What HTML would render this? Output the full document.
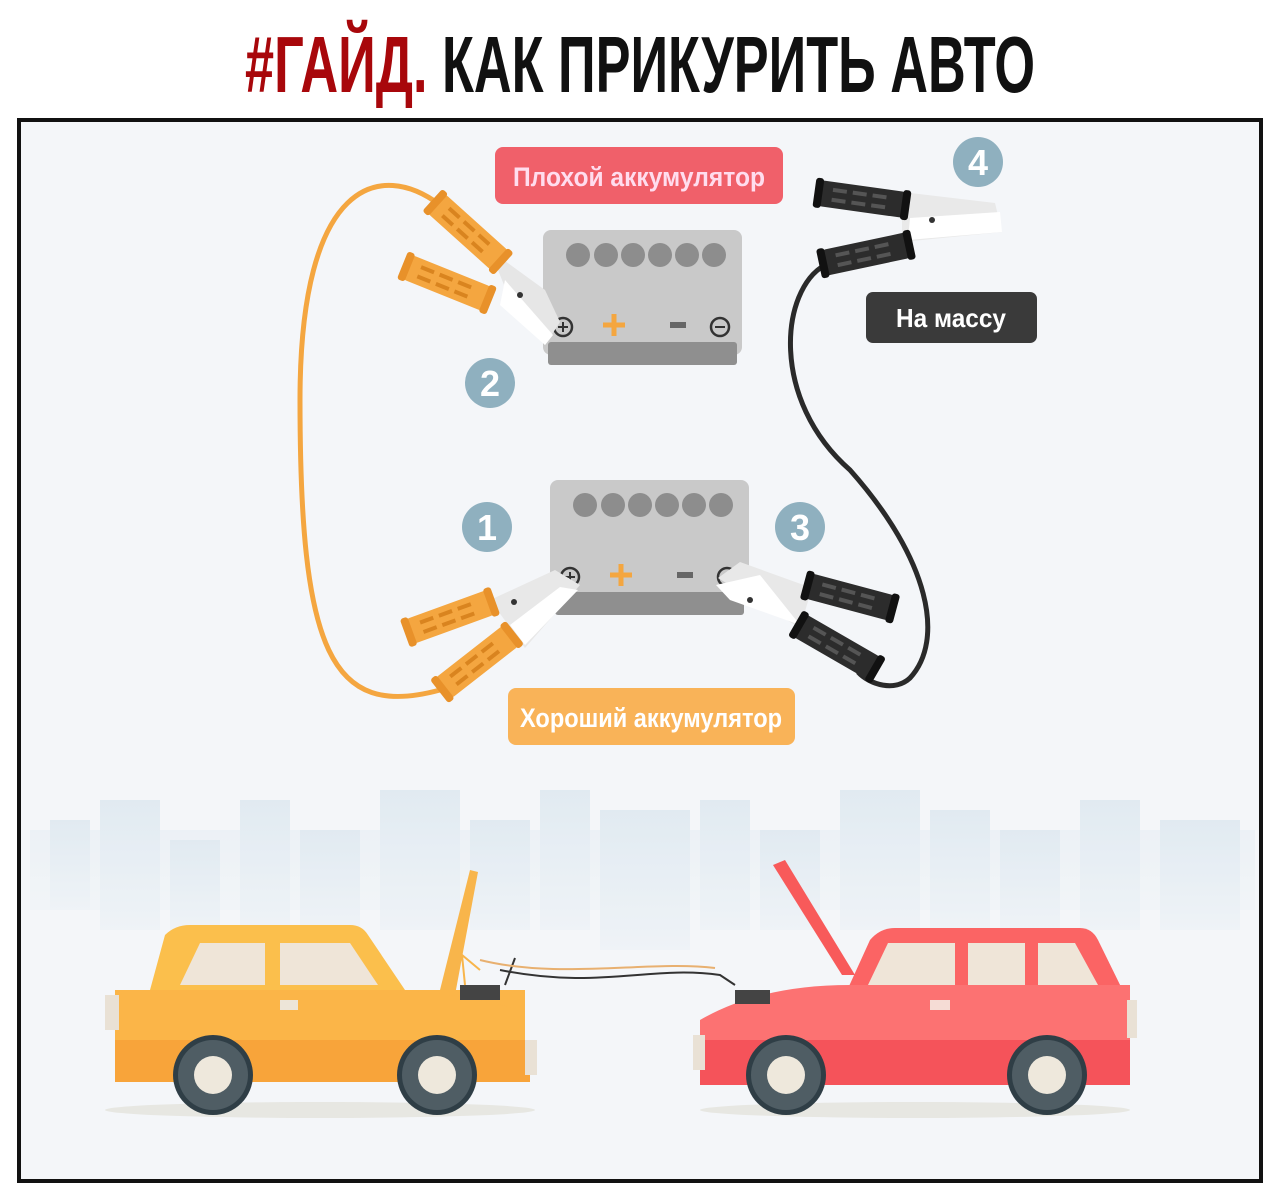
<!DOCTYPE html>
<html><head><meta charset="utf-8"><style>
html,body{margin:0;padding:0;background:#fff;}
svg{display:block}
</style></head><body>
<svg width="1280" height="1201" viewBox="0 0 1280 1201" xmlns="http://www.w3.org/2000/svg">
<defs>
<g id="hO">
 <rect x="-44" y="-13" width="88" height="26" rx="5" fill="#f4a640"/>
 <rect x="-48" y="-15" width="8" height="30" rx="3" fill="#e8912a"/>
 <rect x="40" y="-15" width="8" height="30" rx="3" fill="#e8912a"/>
 <g fill="#d9841f"><rect x="-30" y="-7" width="14" height="4"/><rect x="-10" y="-7" width="14" height="4"/><rect x="10" y="-7" width="14" height="4"/><rect x="-30" y="3" width="14" height="4"/><rect x="-10" y="3" width="14" height="4"/><rect x="10" y="3" width="14" height="4"/></g>
</g>
<g id="hB">
 <rect x="-44" y="-13" width="88" height="26" rx="5" fill="#2c2c2c"/>
 <rect x="-48" y="-15" width="8" height="30" rx="3" fill="#111"/>
 <rect x="40" y="-15" width="8" height="30" rx="3" fill="#111"/>
 <g fill="#555"><rect x="-30" y="-7" width="14" height="4"/><rect x="-10" y="-7" width="14" height="4"/><rect x="10" y="-7" width="14" height="4"/><rect x="-30" y="3" width="14" height="4"/><rect x="-10" y="3" width="14" height="4"/><rect x="10" y="3" width="14" height="4"/></g>
</g>
<linearGradient id="cg" x1="0" y1="0" x2="0" y2="1"><stop offset="0" stop-color="#dde8f0"/><stop offset="1" stop-color="#eef3f7"/></linearGradient>
</defs>
<text x="640" y="92" text-anchor="middle" font-family="'Liberation Sans Narrow','Liberation Sans',sans-serif" font-weight="bold" font-size="80" textLength="790" lengthAdjust="spacingAndGlyphs"><tspan fill="#a8070b">#ГАЙД.</tspan> <tspan fill="#111">КАК ПРИКУРИТЬ АВТО</tspan></text>
<rect x="19" y="120" width="1242" height="1061" fill="#f4f6f9" stroke="#111" stroke-width="4"/>
<!-- city -->
<g fill="url(#cg)" opacity="0.8">
 <rect x="30" y="830" width="1225" height="80" opacity="0.4"/>
 <rect x="50" y="820" width="40" height="90"/><rect x="100" y="800" width="60" height="130"/><rect x="170" y="840" width="50" height="90"/>
 <rect x="240" y="800" width="50" height="130"/><rect x="300" y="830" width="60" height="100"/><rect x="380" y="790" width="80" height="140"/>
 <rect x="470" y="820" width="60" height="110"/><rect x="540" y="790" width="50" height="140"/><rect x="600" y="810" width="90" height="140"/>
 <rect x="700" y="800" width="50" height="130"/><rect x="760" y="830" width="60" height="100"/><rect x="840" y="790" width="80" height="140"/>
 <rect x="930" y="810" width="60" height="120"/><rect x="1000" y="830" width="60" height="100"/><rect x="1080" y="800" width="60" height="130"/><rect x="1160" y="820" width="80" height="110"/>
</g>
<!-- labels -->
<rect x="495" y="147" width="288" height="57" rx="8" fill="#f0606a"/>
<text x="639" y="186" text-anchor="middle" font-family="'Liberation Sans Narrow','Liberation Sans',sans-serif" font-weight="bold" font-size="27" fill="#fde" textLength="252" lengthAdjust="spacingAndGlyphs">Плохой аккумулятор</text>
<rect x="866" y="292" width="171" height="51" rx="7" fill="#3a3a3a"/>
<text x="951" y="327" text-anchor="middle" font-family="'Liberation Sans Narrow','Liberation Sans',sans-serif" font-weight="bold" font-size="26" fill="#fff" textLength="110" lengthAdjust="spacingAndGlyphs">На массу</text>
<rect x="508" y="688" width="287" height="57" rx="8" fill="#f9b358"/>
<text x="651" y="727" text-anchor="middle" font-family="'Liberation Sans Narrow','Liberation Sans',sans-serif" font-weight="bold" font-size="27" fill="#fff" textLength="262" lengthAdjust="spacingAndGlyphs">Хороший аккумулятор</text>
<!-- batteries -->
<g id="bat">
 <rect x="543" y="230" width="199" height="125" rx="8" fill="#c9c9c9"/>
 <rect x="548" y="342" width="189" height="23" rx="3" fill="#8f8f8f"/>
 <g fill="#8d8d8d"><circle cx="578" cy="255" r="12"/><circle cx="606" cy="255" r="12"/><circle cx="633" cy="255" r="12"/><circle cx="660" cy="255" r="12"/><circle cx="687" cy="255" r="12"/><circle cx="714" cy="255" r="12"/></g>
 <path d="M614 314v22M603 325h22" stroke="#f4a640" stroke-width="5"/>
 <rect x="670" y="322" width="16" height="6" fill="#666"/>
 <circle cx="563" cy="327" r="9" fill="none" stroke="#333" stroke-width="2.5"/><path d="M558 327h10M563 322v10" stroke="#333" stroke-width="2"/>
 <circle cx="720" cy="327" r="9" fill="none" stroke="#333" stroke-width="2.5"/><path d="M715 327h10" stroke="#333" stroke-width="2"/>
</g>
<use href="#bat" transform="translate(7,250)"/>
<!-- cables -->
<path d="M440 205 C380 160 300 180 300 400 C300 650 330 720 440 690" fill="none" stroke="#f4a640" stroke-width="5"/>
<path d="M825 265 C780 290 770 400 850 470 C930 560 945 640 910 678 C895 692 870 685 858 672" fill="none" stroke="#2a2a2a" stroke-width="5"/>
<!-- top clamp -->
<polygon points="490,250 510,300 545,345 560,322 545,290" fill="#e6e6e6"/>
<polygon points="505,280 500,305 545,345 553,335" fill="#fff"/>
<circle cx="520" cy="295" r="3" fill="#333"/>
<use href="#hO" transform="translate(468,232) rotate(42)"/>
<use href="#hO" transform="translate(447,283) rotate(22)"/>
<!-- bottom left clamp -->
<polygon points="490,600 555,570 580,585 525,648" fill="#e8e8e8"/>
<polygon points="510,625 560,587 578,590 525,645" fill="#fff"/>
<circle cx="514" cy="602" r="3" fill="#333"/>
<use href="#hO" transform="translate(450,617) rotate(-20)"/>
<use href="#hO" transform="translate(477,662) rotate(-38)"/>
<!-- bottom right clamp -->
<polygon points="718,578 740,562 812,588 800,628" fill="#e8e8e8"/>
<polygon points="716,585 730,600 800,625 760,575" fill="#fff"/>
<circle cx="750" cy="600" r="3" fill="#333"/>
<use href="#hB" transform="translate(850,597) rotate(15)"/>
<use href="#hB" transform="translate(837,647) rotate(30)"/>
<!-- top right clamp -->
<polygon points="902,192 995,203 1002,232 902,242" fill="#e9e9e9"/>
<polygon points="910,218 1000,212 1002,232 908,240" fill="#fff"/>
<circle cx="932" cy="220" r="3" fill="#333"/>
<use href="#hB" transform="translate(862,199) rotate(8)"/>
<use href="#hB" transform="translate(866,254) rotate(-12)"/>
<!-- numbers -->
<g fill="#8fb0bf"><circle cx="978" cy="162" r="25"/><circle cx="490" cy="383" r="25"/><circle cx="487" cy="527" r="25"/><circle cx="800" cy="527" r="25"/></g>
<g font-family="'Liberation Sans Narrow','Liberation Sans',sans-serif" font-weight="bold" font-size="36" fill="#fff" text-anchor="middle">
<text x="978" y="175">4</text><text x="490" y="396">2</text><text x="487" y="540">1</text><text x="800" y="540">3</text></g>
<!-- shadows -->
<ellipse cx="320" cy="1110" rx="215" ry="8" fill="#e7e7e2"/>
<ellipse cx="915" cy="1110" rx="215" ry="8" fill="#e7e7e2"/>
<!-- yellow car -->
<polygon points="440,990 470,870 478,872 455,995" fill="#f8b54b"/>
<path d="M165 935 Q175 925 190 925 H350 Q362 925 368 935 L405 990 H150 Z" fill="#fbbf4c"/>
<polygon points="180,985 200,943 265,943 265,985" fill="#efe5d8"/>
<polygon points="280,985 280,943 350,943 378,985" fill="#efe5d8"/>
<rect x="115" y="990" width="410" height="90" fill="#fbb548"/>
<path d="M400 990 Q470 995 520 1010 V1080 H400Z" fill="#fbb548"/>
<rect x="115" y="1040" width="415" height="42" fill="#f8a43a"/>
<rect x="105" y="995" width="14" height="35" fill="#e9e1d5"/><rect x="525" y="1040" width="12" height="35" fill="#e9e1d5"/>
<rect x="280" y="1000" width="18" height="10" fill="#ede5d8"/>
<rect x="460" y="985" width="40" height="15" fill="#444"/>
<path d="M465 985 L462 955 L480 970" fill="none" stroke="#f8b54b" stroke-width="2"/>
<path d="M515 958 L505 985 M500 970 C600 990 650 965 720 975 L735 985" fill="none" stroke="#333" stroke-width="2"/>
<path d="M480 960 C560 980 650 960 715 968" fill="none" stroke="#e8b070" stroke-width="2"/>
<g><circle cx="213" cy="1075" r="40" fill="#2f3e46"/><circle cx="213" cy="1075" r="35" fill="#4f5d64"/><circle cx="213" cy="1075" r="19" fill="#eee8dc"/></g>
<g><circle cx="437" cy="1075" r="40" fill="#2f3e46"/><circle cx="437" cy="1075" r="35" fill="#4f5d64"/><circle cx="437" cy="1075" r="19" fill="#eee8dc"/></g>
<!-- red car -->
<polygon points="842,975 773,865 785,860 855,975" fill="#f85a5a"/>
<path d="M870 940 Q880 928 895 928 H1080 Q1092 928 1098 940 L1125 995 H845 Z" fill="#fb6464"/>
<polygon points="868,985 888,943 955,943 955,985" fill="#efe5d8"/>
<polygon points="968,985 968,943 1025,943 1025,985" fill="#efe5d8"/>
<polygon points="1038,985 1038,943 1075,943 1098,985" fill="#efe5d8"/>
<path d="M700 1020 Q760 985 850 985 H1130 V1085 H700Z" fill="#fc7272"/>
<rect x="700" y="1040" width="430" height="45" fill="#f5535a"/>
<rect x="693" y="1035" width="12" height="35" fill="#e9e1d5"/><rect x="1127" y="1000" width="10" height="38" fill="#e9e1d5"/>
<rect x="930" y="1000" width="20" height="10" fill="#f5dcd5"/>
<rect x="735" y="990" width="35" height="14" fill="#444"/>
<g><circle cx="786" cy="1075" r="40" fill="#2f3e46"/><circle cx="786" cy="1075" r="35" fill="#4f5d64"/><circle cx="786" cy="1075" r="19" fill="#eee8dc"/></g>
<g><circle cx="1047" cy="1075" r="40" fill="#2f3e46"/><circle cx="1047" cy="1075" r="35" fill="#4f5d64"/><circle cx="1047" cy="1075" r="19" fill="#eee8dc"/></g>
</svg>
</body></html>
